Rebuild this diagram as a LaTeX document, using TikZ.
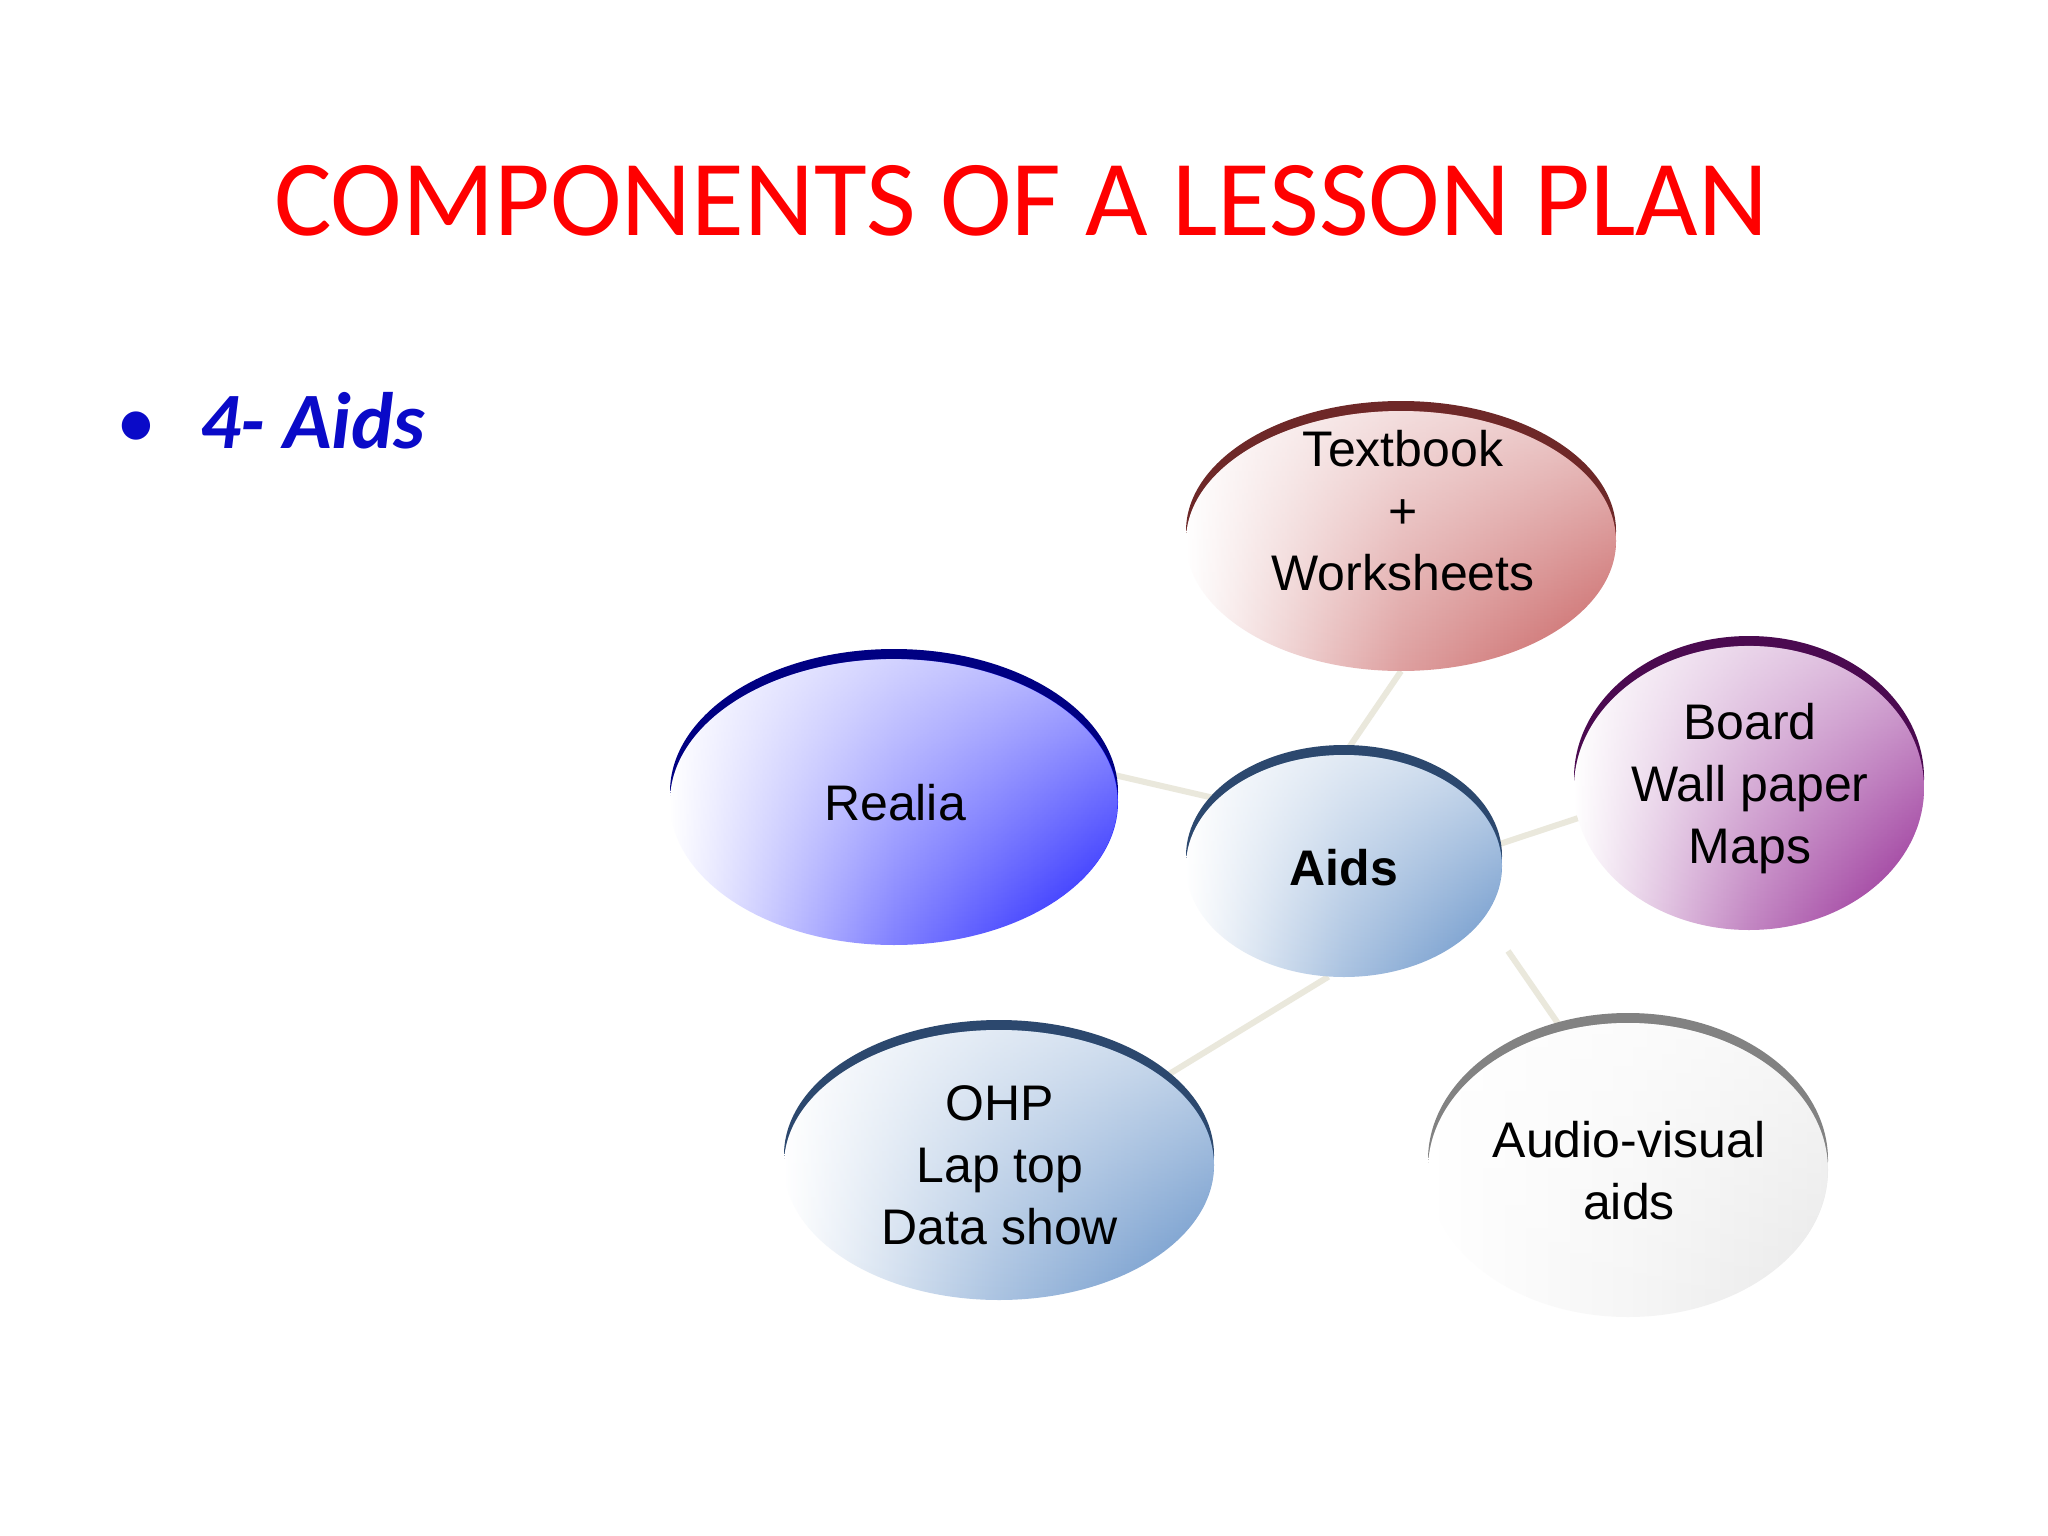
\documentclass[tikz,border=0pt]{standalone}
\usepackage{fontspec}
\setmainfont{Liberation Sans}
\newfontfamily\calibri{Carlito}
\usetikzlibrary{shapes.geometric,fadings,calc}
\pgfdeclarelayer{bg}
\pgfsetlayers{bg,main}
\tikzfading[name=topfade, top color=transparent!35, middle color=transparent!85, bottom color=transparent!100]
\definecolor{titlered}{RGB}{255,0,0}
\definecolor{subblue}{RGB}{10,10,200}
\definecolor{connc}{RGB}{234,232,220}
\definecolor{tbcol}{RGB}{200,96,96}
\definecolor{tbrim}{RGB}{110,40,40}
\definecolor{recol}{RGB}{25,25,255}
\definecolor{rerim}{RGB}{0,0,130}
\definecolor{aicol}{RGB}{100,145,200}
\definecolor{airim}{RGB}{44,72,110}
\definecolor{bocol}{RGB}{145,35,145}
\definecolor{borim}{RGB}{75,10,80}
\definecolor{avcol}{RGB}{232,232,232}
\definecolor{avrim}{RGB}{130,130,130}
\tikzset{
  blob/.style n args={3}{ellipse, inner sep=0pt,
    left color=white, right color=#1, middle color=#3,
    preaction={fill=#2, transform canvas={yshift=10pt}},
    postaction={fill=white, path fading=topfade}},
  txt/.style={font=\fontsize{50}{62}\selectfont, align=center, inner sep=0pt, text=black},
  conn/.style={draw=connc, line width=6pt}
}
\begin{document}
\begin{tikzpicture}[x=1pt,y=-1pt]
\begin{pgfonlayer}{bg}
\fill[white] (0,0) rectangle (2048,1536);
\end{pgfonlayer}
\useasboundingbox (0,0) rectangle (2048,1536);

\node[anchor=base, text=titlered, font=\calibri\fontsize{108}{130}\selectfont, inner sep=0pt] (title) at (1021,235) {COMPONENTS OF A LESSON PLAN};
\node[anchor=base, text=subblue, font=\calibri\fontsize{80}{96}\selectfont, inner sep=0pt] (bullet) at (136,448) {•};
\node[anchor=base west, text=subblue, font=\calibri\bfseries\itshape\fontsize{80}{96}\selectfont, inner sep=0pt] (sub) at (200,448) {4- Aids};

\node[blob={tbcol}{tbrim}{tbcol!60}, minimum width=430pt, minimum height=260pt] (tb) at (1401,541) {};
\node[blob={recol}{rerim}{recol!55}, minimum width=448pt, minimum height=286pt] (re) at (894,802) {};
\node[blob={aicol}{airim}{aicol!55}, minimum width=316pt, minimum height=222pt] (aids) at (1344,866) {};
\node[blob={bocol}{borim}{bocol!55}, minimum width=350pt, minimum height=284pt] (bo) at (1749,788) {};
\node[blob={aicol}{airim}{aicol!55}, minimum width=430pt, minimum height=270pt] (ohp) at (999,1165) {};
\node[blob={avcol}{avrim}{avcol!40}, minimum width=400pt, minimum height=294pt] (av) at (1628,1170) {};

\node[txt] (tbt) at ($(tb)+(2,-30)$) {Textbook\\+\\Worksheets};
\node[txt] (ret) at ($(re)+(1,1)$) {Realia};
\node[txt, font=\bfseries\fontsize{50}{62}\selectfont] (aidst) at ($(aids)+(0,2)$) {Aids};
\node[txt] (bot) at ($(bo)+(1,1)$) {Board\\Wall paper\\Maps};
\node[txt] (ohpt) at ($(ohp)+(1,0)$) {OHP\\Lap top\\Data show};
\node[txt] (avt) at ($(av)+(1,1)$) {Audio-visual\\aids};

\coordinate (avstart) at (1508,951);
\begin{pgfonlayer}{bg}
\draw[conn] (tb.south) -- (aids.north);
\draw[conn] (re.7) -- (aids.152);
\draw[conn] (aids.8) -- (bo.190);
\draw[conn] (aids.262) -- (ohp.28);
\draw[conn] (avstart) -- (av.115);
\end{pgfonlayer}
\end{tikzpicture}
\end{document}
